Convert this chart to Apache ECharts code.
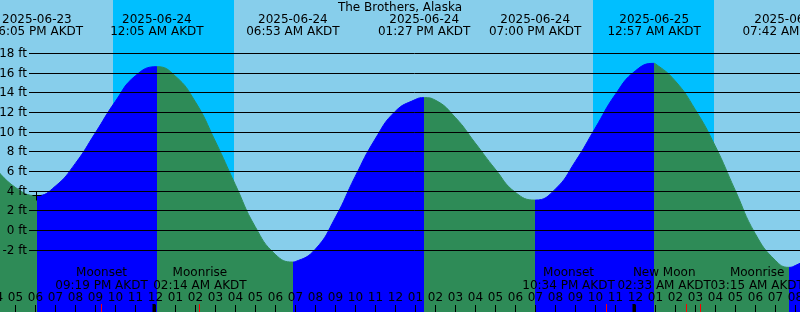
<!DOCTYPE html>
<html>
<head>
<meta charset="utf-8">
<script src="https://cdn.jsdelivr.net/npm/echarts@6/dist/echarts.min.js"></script>
<style>
html, body { margin: 0; padding: 0; background: #87ceeb; }
#tide_chart { width: 800px; height: 312px; }
</style>
</head>
<body>
<div id="tide_chart"></div>
<script>
const stationName = 'The Brothers, Alaska';

// hourly heights (ft)
const tideTimes = [
    '2025-06-23 16:00', '2025-06-23 17:00', '2025-06-23 19:00', '2025-06-23 20:00',
    '2025-06-23 21:00', '2025-06-23 22:00', '2025-06-23 23:00',
    '2025-06-24 01:00', '2025-06-24 02:00', '2025-06-24 03:00', '2025-06-24 04:00',
    '2025-06-24 05:00', '2025-06-24 06:00', '2025-06-24 07:00', '2025-06-24 08:00',
    '2025-06-24 09:00', '2025-06-24 10:00', '2025-06-24 11:00', '2025-06-24 12:00',
    '2025-06-24 13:00', '2025-06-24 14:00', '2025-06-24 15:00', '2025-06-24 16:00',
    '2025-06-24 17:00', '2025-06-24 18:00', '2025-06-24 20:00', '2025-06-24 21:00',
    '2025-06-24 22:00', '2025-06-24 23:00',
    '2025-06-25 00:00', '2025-06-25 01:00', '2025-06-25 02:00', '2025-06-25 03:00',
    '2025-06-25 04:00', '2025-06-25 05:00', '2025-06-25 06:00', '2025-06-25 07:00',
    '2025-06-25 08:00', '2025-06-25 09:00'
];
const tideFeet = [
    6.4, 4.4, 4.5, 6.8, 9.9, 13.1, 15.7,
    15.7, 13.1, 9.1, 4.7, 0.4, -2.4, -3.15, -1.9, 1.3, 5.5, 9.3, 12.1,
    13.3, 13.25, 11.5, 8.9, 6.25, 3.9, 4.2, 7.0, 10.4, 13.8,
    16.2, 16.95, 15.2, 12.3, 8.6, 4.1, -0.3, -3.0, -3.55, -2.5
];

// highs and lows
const extremeTimes = ['2025-06-23 18:05', '2025-06-24 00:05', '2025-06-24 06:53', '2025-06-24 13:27',
    '2025-06-24 19:00', '2025-06-25 00:57', '2025-06-25 07:42'];
const extremeFeet = [3.55, 16.64, -3.19, 13.5, 3.1, 16.98, -3.73];
const extremeDates = ['2025-06-23', '2025-06-24', '2025-06-24', '2025-06-24', '2025-06-24', '2025-06-25', '2025-06-25'];
const extremeClock = ['06:05 PM AKDT', '12:05 AM AKDT', '06:53 AM AKDT', '01:27 PM AKDT',
    '07:00 PM AKDT', '12:57 AM AKDT', '07:42 AM AKDT'];

// "now" cross
const nowMark = ['2025-06-23 18:05', 3.55];

// moon events
const moonTimes = ['2025-06-23 21:19', '2025-06-24 02:14', '2025-06-24 22:34', '2025-06-25 02:33', '2025-06-25 03:15'];
const moonNames = ['Moonset', 'Moonrise', 'Moonset', 'New Moon', 'Moonrise'];
const moonClock = ['09:19 PM AKDT', '02:14 AM AKDT', '10:34 PM AKDT', '02:33 AM AKDT', '03:15 AM AKDT'];
const moonLabelShift = [0, 0, -38, -22, 57];  // label nudges so they don't collide

// night (sunset -> sunrise)
const nightStarts = ['2025-06-23 21:53', '2025-06-24 21:54'];
const nightEnds = ['2025-06-24 03:55', '2025-06-25 03:56'];
const midnights = ['2025-06-24 00:00', '2025-06-25 00:00'];

const hourStart = '2025-06-23 16:00';
const hourLabels = ['04', '05', '06', '07', '08', '09', '10', '11',
    '12', '01', '02', '03', '04', '05', '06', '07', '08', '09', '10', '11',
    '12', '01', '02', '03', '04', '05', '06', '07', '08', '09', '10', '11',
    '12', '01', '02', '03', '04', '05', '06', '07', '08'];
const depthTicks = [-2, 0, 2, 4, 6, 8, 10, 12, 14, 16, 18];

const FONT = '12px "DejaVu Sans"';
const RISE = '#0000ff';
const FALL = '#2e8b57';
const HOUR = 3600 * 1000;

function t(s) { return new Date(s.replace(' ', 'T') + ':00').getTime(); }

const xMin = t('2025-06-24 00:00') - 7.76 * HOUR;
const xMax = xMin + 40 * HOUR;

let tidePoints = tideTimes.map((s, i) => [t(s), tideFeet[i]])
    .concat(extremeTimes.map((s, i) => [t(s), extremeFeet[i]]));
tidePoints.sort((a, b) => a[0] - b[0]);

// rising = blue, falling = green, switching at each high/low
let pieces = [];
const ext = extremeTimes.map(t);
pieces.push({ lt: ext[0], color: extremeFeet[0] < tidePoints[0][1] ? FALL : RISE });
for (let i = 0; i < ext.length - 1; i++) {
    pieces.push({ gte: ext[i], lt: ext[i + 1], color: extremeFeet[i + 1] > extremeFeet[i] ? RISE : FALL });
}
const last = ext.length - 1;
pieces.push({ gte: ext[last], color: extremeFeet[last] < extremeFeet[last - 1] ? RISE : FALL });

function txt(text, x, y, align) {
    return { type: 'text', style: { text: text, x: x, y: y, align: align || 'center', verticalAlign: 'middle', fill: '#000', font: FONT } };
}

let option = {
    backgroundColor: '#87ceeb',
    animation: false,
    grid: { left: 0, right: 0, top: 0, bottom: 0 },
    xAxis: { type: 'value', min: xMin, max: xMax, show: false },
    yAxis: { type: 'value', min: -8.26, max: 23.41, show: false },
    visualMap: {
        type: 'piecewise', show: false, dimension: 0, seriesIndex: 1, pieces: pieces
    },
    graphic: [
        { type: 'text', z: 10, style: { text: stationName, x: 400, y: 8, align: 'center', verticalAlign: 'middle', fill: '#000', font: FONT } }
    ],
    series: [
        {
            // night bands
            type: 'custom', z: 1, silent: true,
            encode: { x: [0, 1], y: 2 },
            data: nightStarts.map((s, i) => [t(s), t(nightEnds[i]), 0]),
            renderItem: function (params, api) {
                const x1 = Math.round(api.coord([api.value(0), 0])[0]);
                const x2 = Math.round(api.coord([api.value(1), 0])[0]);
                return { type: 'rect', shape: { x: x1, y: 0, width: x2 - x1, height: 312 }, style: { fill: '#00bfff' } };
            }
        },
        {
            type: 'line', z: 2, silent: true,
            data: tidePoints,
            smooth: 0.5,
            showSymbol: false,
            lineStyle: { width: 1 },
            areaStyle: { opacity: 1, origin: 'start' }
        },
        {
            // depth lines + labels
            type: 'custom', z: 3, silent: true,
            data: depthTicks.map(v => [xMin, v]),
            renderItem: function (params, api) {
                const y = Math.floor(api.coord([xMin, api.value(1)])[1]) + 0.5;
                return {
                    type: 'group', children: [
                        { type: 'line', shape: { x1: 29, y1: y, x2: 800, y2: y }, style: { stroke: '#000', lineWidth: 1 } },
                        txt(api.value(1) + ' ft', 27, y, 'right')
                    ]
                };
            }
        },
        {
            // hour ticks
            type: 'custom', z: 4, silent: true,
            data: hourLabels.map((s, i) => [t(hourStart) + i * HOUR, 0]),
            renderItem: function (params, api) {
                const x = Math.floor(api.coord([api.value(0), 0])[0]) + 0.5;
                return {
                    type: 'group', children: [
                        { type: 'line', shape: { x1: x, y1: 305, x2: x, y2: 312 }, style: { stroke: '#000', lineWidth: 1 } },
                        txt(hourLabels[params.dataIndex], x, 297.5)
                    ]
                };
            }
        },
        {
            // midnight (thick) and moon (red) ticks
            type: 'custom', z: 5, silent: true,
            data: midnights.map(s => [t(s), 3]).concat(moonTimes.map(s => [t(s), 1])),
            renderItem: function (params, api) {
                const w = api.value(1);
                const x = Math.floor(api.coord([api.value(0), 0])[0]) + (w === 3 ? -1 : 0.5);
                return { type: 'line', shape: { x1: x, y1: 304, x2: x, y2: 312 }, style: { stroke: w === 3 ? '#000' : '#ff0000', lineWidth: w } };
            }
        },
        {
            // high / low labels
            type: 'custom', z: 6, silent: true,
            data: extremeTimes.map((s, i) => [t(s), extremeFeet[i]]),
            renderItem: function (params, api) {
                const x = api.coord([api.value(0), 0])[0];
                const i = params.dataIndex;
                return { type: 'group', children: [txt(extremeDates[i], x, 20), txt(extremeClock[i], x, 32)] };
            }
        },
        {
            // moon labels
            type: 'custom', z: 6, silent: true,
            data: moonTimes.map(s => [t(s), 0]),
            renderItem: function (params, api) {
                const i = params.dataIndex;
                const x = api.coord([api.value(0), 0])[0] + moonLabelShift[i];
                return { type: 'group', children: [txt(moonNames[i], x, 273), txt(moonClock[i], x, 286)] };
            }
        },
        {
            // small cross
            type: 'custom', z: 6, silent: true,
            data: [[t(nowMark[0]), nowMark[1]]],
            renderItem: function (params, api) {
                const p = api.coord([api.value(0), api.value(1)]);
                const x = Math.floor(p[0]) + 0.5, y = Math.floor(p[1]) + 0.5;
                return {
                    type: 'group', children: [
                        { type: 'line', shape: { x1: x - 4, y1: y, x2: x + 5, y2: y }, style: { stroke: '#000', lineWidth: 1 } },
                        { type: 'line', shape: { x1: x, y1: y - 4, x2: x, y2: y + 5 }, style: { stroke: '#000', lineWidth: 1 } }
                    ]
                };
            }
        }
    ]
};

var myChart = echarts.init(document.getElementById('tide_chart'));
myChart.setOption(option);
</script>
</body>
</html>
